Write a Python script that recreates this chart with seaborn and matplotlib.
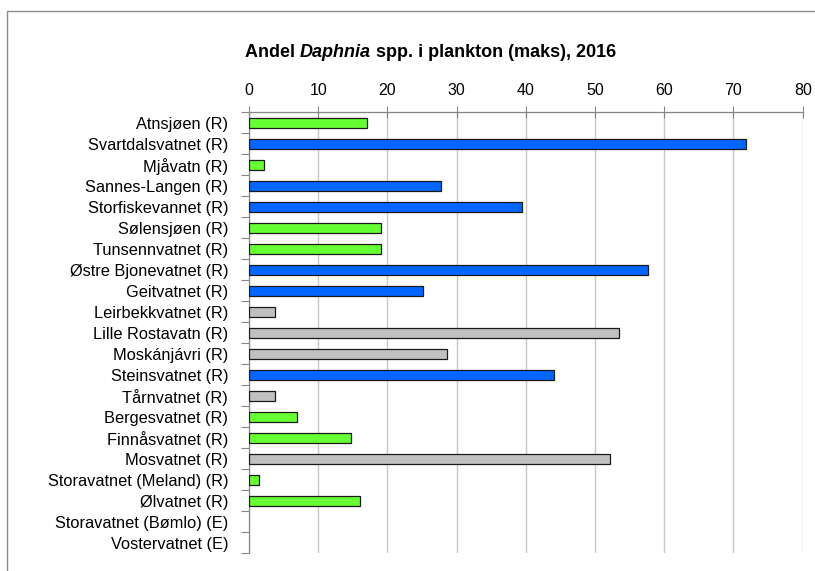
import numpy as np
import pandas as pd
import matplotlib
matplotlib.use('Agg')
import matplotlib.pyplot as plt
import seaborn as sns
from matplotlib.lines import Line2D


lakes = ['Atnsjøen (R)', 'Svartdalsvatnet (R)', 'Mjåvatn (R)', 'Sannes-Langen (R)',
         'Storfiskevannet (R)', 'Sølensjøen (R)', 'Tunsennvatnet (R)',
         'Østre Bjonevatnet (R)', 'Geitvatnet (R)', 'Leirbekkvatnet (R)',
         'Lille Rostavatn (R)', 'Moskánjávri (R)', 'Steinsvatnet (R)',
         'Tårnvatnet (R)', 'Bergesvatnet (R)', 'Finnåsvatnet (R)', 'Mosvatnet (R)',
         'Storavatnet (Meland) (R)', 'Ølvatnet (R)', 'Storavatnet (Bømlo) (E)',
         'Vostervatnet (E)']
share = [17.0, 71.8, 2.2, 27.8, 39.5, 19.1, 19.1, 57.7, 25.2, 3.7, 53.5, 28.6,
         44.1, 3.7, 7.0, 14.7, 52.1, 1.4, 16.1, np.nan, np.nan]
group = ['green', 'blue', 'green', 'blue', 'blue', 'green', 'green', 'blue', 'blue',
         'grey', 'grey', 'grey', 'blue', 'grey', 'green', 'green', 'grey', 'green',
         'green', 'grey', 'grey']
x_ticks = [0, 10, 20, 30, 40, 50, 60, 70, 80]

palette = {'green': '#66FF33', 'blue': '#0066FF', 'grey': '#C0C0C0'}

df = pd.DataFrame({'lake': lakes, 'share': share, 'group': group})

sns.set_style('white')
plt.rcParams['font.family'] = ['Liberation Sans', 'DejaVu Sans']

W, H = 815, 571
fig = plt.figure(figsize=(W / 100, H / 100), dpi=100)
ax = fig.add_axes([249 / W, 1 - 553.3 / H, (802.7 - 249) / W, (553.3 - 112.3) / H])

sns.barplot(data=df, y='lake', x='share', hue='group', palette=palette,
            order=lakes, dodge=False, legend=False, width=0.45, saturation=1,
            edgecolor='#1A1A1A', linewidth=0.9, ax=ax, zorder=3)

ax.set_xlim(0, 80)
ax.set_ylim(len(lakes) - 0.5, -0.5)
ax.set_xticks(x_ticks)
ax.xaxis.tick_top()
ax.tick_params(axis='x', which='major', direction='inout', length=8, width=0.8,
               color='#868686', labelsize=11.5, labelcolor='black', pad=6)
ax.set_yticks(range(len(lakes)))
ax.set_yticks(np.arange(-0.5, len(lakes), 1), minor=True)
ax.tick_params(axis='y', which='major', length=0, labelsize=11.8,
               labelcolor='black', pad=15)
ax.tick_params(axis='y', which='minor', direction='out', length=6, width=0.8,
               color='#868686', left=True)
ax.set_xlabel('')
ax.set_ylabel('')

ax.grid(axis='x', color='#C8C8C8', linewidth=1.0, zorder=0)
ax.set_axisbelow(True)
for side in ['right', 'bottom']:
    ax.spines[side].set_visible(False)
for side in ['top', 'left']:
    ax.spines[side].set_color('#868686')
    ax.spines[side].set_linewidth(0.9)

# outer frame of the chart area (only left and top edges are inside the crop)
fig.add_artist(Line2D([7.3 / W, 7.3 / W], [0, 1 - 11 / H], color='#8C8C8C', lw=1.0))
fig.add_artist(Line2D([7.3 / W, 1], [1 - 11 / H, 1 - 11 / H], color='#8C8C8C', lw=1.0))

# title with italic genus name
t1 = fig.text(245 / W, 1 - 56.7 / H, 'Andel ', fontsize=13, fontweight='bold',
              color='black', va='baseline', ha='left')
t2 = ax.annotate('Daphnia', xy=(1, 0), xycoords=t1, fontsize=13, fontweight='bold',
                 fontstyle='italic', color='black', va='bottom', ha='left',
                 annotation_clip=False)
t3 = ax.annotate(' spp. i plankton (maks), 2016', xy=(1, 0), xycoords=t2,
                 fontsize=13, fontweight='bold', color='black', va='bottom',
                 ha='left', annotation_clip=False)

plt.savefig('out.png', dpi=100)
plt.close()
